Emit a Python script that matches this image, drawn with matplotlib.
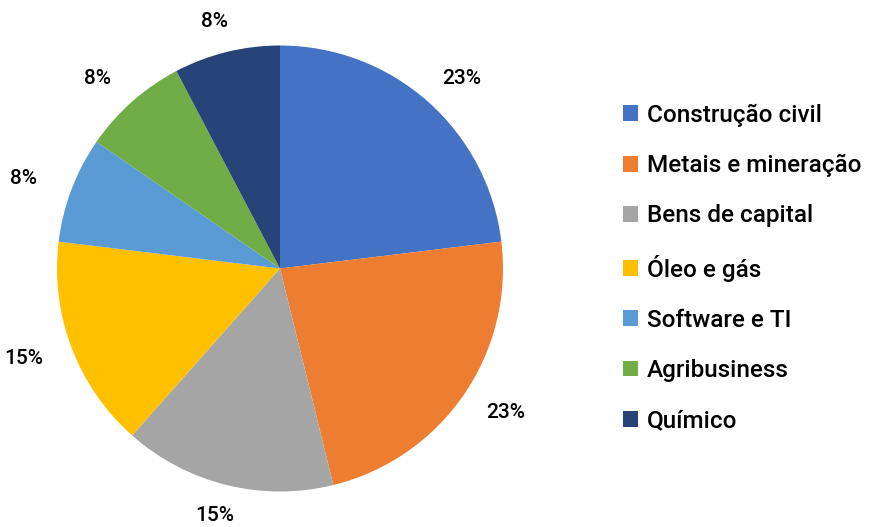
import matplotlib.pyplot as plt
from matplotlib.patches import Patch

# data
setores = ['Construção civil', 'Metais e mineração', 'Bens de capital',
           'Óleo e gás', 'Software e TI', 'Agribusiness', 'Químico']
valores = [3, 3, 2, 2, 1, 1, 1]
cores = ['#4472C4', '#ED7D31', '#A5A5A5', '#FFC000', '#5B9BD5', '#70AD47', '#264478']

plt.rcParams['font.family'] = ['Roboto', 'DejaVu Sans']

fig = plt.figure(figsize=(8.86, 5.27), dpi=100)
W, H = 886, 527
ax = fig.add_axes([57 / W, 35 / H, 446 / W, 447 / H])

wedges, texts, pcts = ax.pie(valores, colors=cores, startangle=90, counterclock=False,
                             autopct='%1.0f%%', pctdistance=1.14, radius=1,
                             textprops={'fontsize': 15, 'color': 'black', 'fontweight': 'medium'},
                             wedgeprops={'linewidth': 0})
# nudge labels outward horizontally, like the original
for t in pcts:
    x, y = t.get_position()
    t.set_position((x * 1.08, y))
ax.set_xlim(-1, 1)
ax.set_ylim(-1, 1)
ax.set_aspect('equal')

handles = [Patch(facecolor=c, label=s) for c, s in zip(cores, setores)]
fig.legend(handles=handles, loc='center left', bbox_to_anchor=(613 / W, 1 - 268 / H),
           frameon=False, prop={'size': 17.5, 'weight': 'medium'},
           handlelength=0.62, handleheight=0.62,
           handletextpad=0.38, labelspacing=1.12, borderaxespad=0)

fig.savefig('out.png', dpi=100)
